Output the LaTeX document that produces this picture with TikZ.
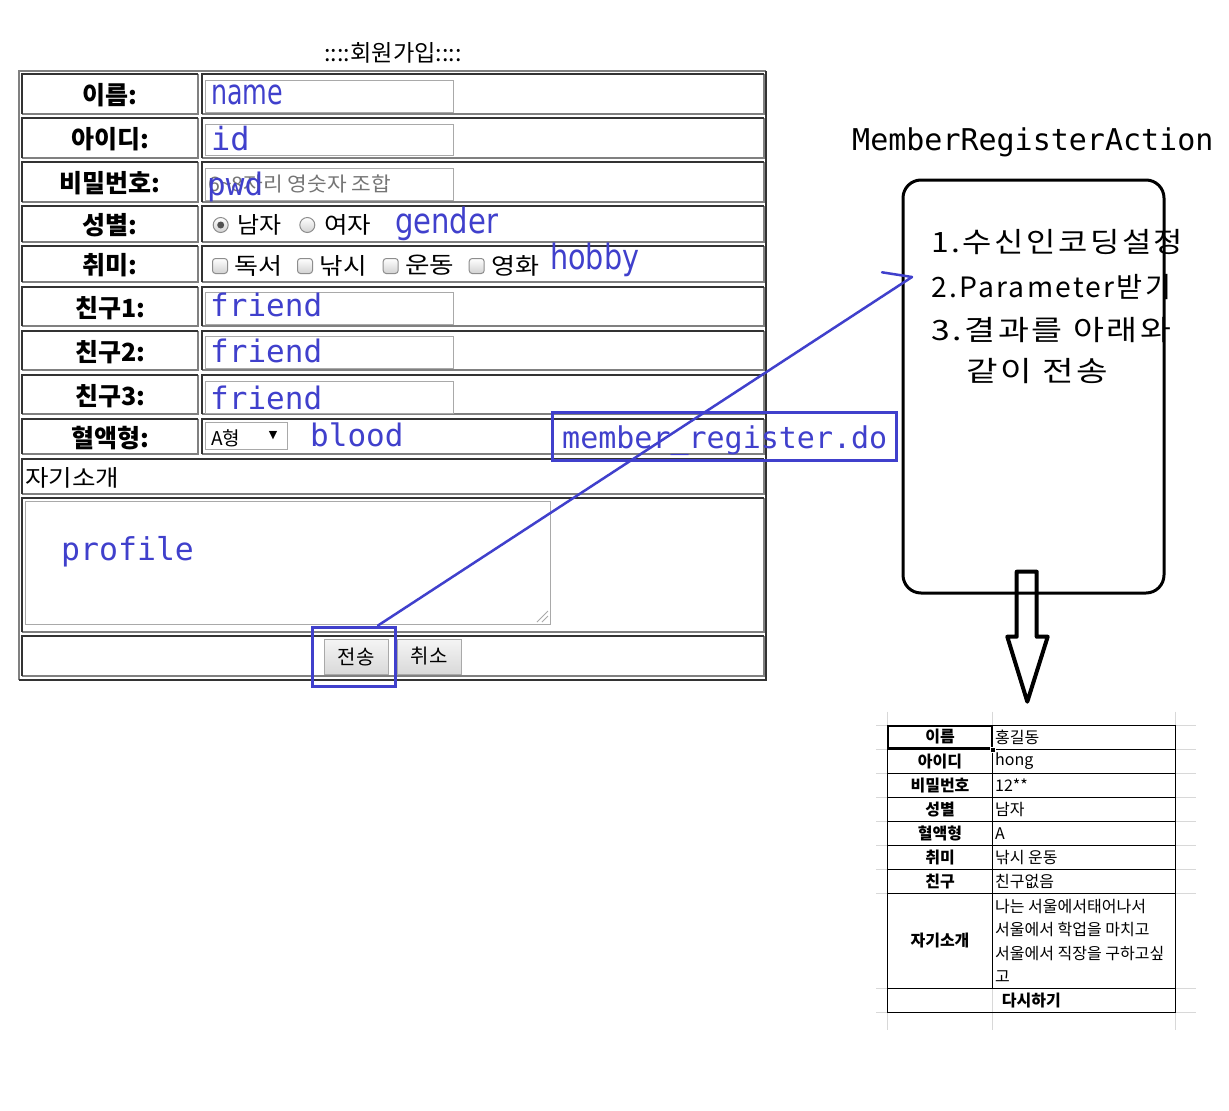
\documentclass[tikz,border=0pt]{standalone}
\usepackage{fontspec}
\usepackage{graphicx}
\setmainfont{Noto Sans CJK KR}
\newfontfamily\kr{Noto Sans CJK KR}
\newfontfamily\krsp[LetterSpace=8]{Noto Sans CJK KR}
\newfontfamily\dvs{DejaVu Sans}
\newfontfamily\dvm{DejaVu Sans Mono}
\newcommand\fsz[1]{\fontsize{#1}{#1}\selectfont}
\newcommand\fw[2]{\resizebox{#1}{\height}{#2}}
\definecolor{blu}{RGB}{64,64,204}
\definecolor{dk}{RGB}{51,51,51}
\definecolor{gy}{RGB}{128,128,128}
\definecolor{fld}{RGB}{169,169,169}
\definecolor{gridc}{RGB}{216,216,216}
\definecolor{phc}{RGB}{117,117,117}
\tikzset{
  dkl/.style={draw=dk, line width=2pt},
  gyl/.style={draw=gy, line width=2pt},
  field/.style={draw=fld, line width=1pt, fill=white},
  lab/.style={font=\kr\bfseries\fsz{25}, inner sep=0pt},
  val/.style={font=\kr\fsz{23}, inner sep=0pt, anchor=west},
  bluem/.style={font=\dvm\fsz{31}, text=blu, inner sep=0pt, anchor=base west},
  bluep/.style={font=\dvs\fsz{35}, text=blu, inner sep=0pt, anchor=base west},
  hl/.style={draw=blu, line width=3pt, inner sep=0pt},
  btn/.style={draw=fld, line width=1pt, top color=white!96!black, bottom color=white!85!black,
              font=\kr\fsz{20}, inner sep=0pt, minimum width=64pt, minimum height=35pt},
  radio/.style={draw=gy!90, line width=1pt, top color=white, bottom color=white!82!black},
  chk/.style={draw=gy!90, line width=1pt, top color=white, bottom color=white!82!black, rounded corners=3pt},
  acttxt/.style={font=\krsp\fsz{28}, inner sep=0pt, anchor=base west},
  gridl/.style={draw=gridc, line width=1pt},
  tlab/.style={font=\kr\bfseries\fsz{16}, inner sep=0pt},
  tval/.style={font=\kr\fsz{16}, inner sep=0pt, anchor=west}
}
\newcommand\tcell[4]{%
  \draw[gyl] (#3,#2) -- (#3,#4) -- (#1,#4);
  \draw[dkl] (#1,#4) -- (#1,#2) -- (#3,#2);
}
\begin{document}
\begin{tikzpicture}[x=1pt,y=-1pt]
\fill[white] (0,0) rectangle (1229,1111);
\useasboundingbox (0,0) rectangle (1229,1111);

% ---------- title
\node[inner sep=0pt, font=\kr\fsz{23}] (title) at (393,53) {\fw{137pt}{::::회원가입::::}};

% ---------- outer table
\draw[gyl] (19,680) -- (19,71) -- (766,71);
\draw[dkl] (766,71) -- (766,680) -- (19,680);

\foreach \a/\b/\t [count=\i] in {74/114/이름:, 118/158/아이디:, 162/202/비밀번호:, 206/242/성별:,
   246/282/취미:, 287/326/친구1:, 331/370/친구2:, 375/414/친구3:, 419/454/혈액형:}{
  \tcell{22}{\a}{198}{\b}
  \tcell{202}{\a}{764}{\b}
  \node[lab] (lab\i) at (110,{(\a+\b)/2+1.5}) {\t};
}
\tcell{22}{459}{764}{494}
\tcell{22}{498}{764}{632}
\tcell{22}{636}{764}{676}

% ---------- inputs
\foreach \a/\b in {80/112, 124/155, 168/200, 292/324, 336/368, 381/413}{
  \draw[field] (205,\a) rectangle (453,\b);
}
\node[inner sep=0pt, anchor=west, text=phc, font=\kr\fsz{20}] (ph) at (208,184)
  {\fw{183pt}{6\textasciitilde8자리 영숫자 조합}};

% gender
\shade[radio] (220.7,225) circle (7.5);
\fill[dk!85] (220.7,225) circle (3.5);
\node[val] (male) at (237,225) {\fw{44pt}{남자}};
\shade[radio] (307.3,225) circle (7.5);
\node[val] (female) at (324,225) {\fw{47pt}{여자}};

% hobby
\foreach \x/\w/\ww [count=\i] in {220/독서/48, 305/낚시/47, 390.7/운동/49, 476.7/영화/48}{
  \shade[chk] (\x-7.5,258.5) rectangle (\x+7.5,273.5);
  \node[val] (hob\i) at (\x+14.5,265.5) {\fw{\ww pt}{\w}};
}

% select
\draw[field] (205,422) rectangle (287,449);
\node[inner sep=0pt, anchor=west, font=\kr\fsz{19}] (selA) at (211,438) {A형};
\node[inner sep=0pt, font=\dvs\fsz{11}] (seltri) at (273,435.5) {▼};

% textarea
\node[inner sep=0pt, anchor=west, font=\kr\fsz{23}] (intro) at (25,477.5) {\fw{94pt}{자기소개}};
\draw[field] (25,501) rectangle (550,624);
\draw[fld, line width=0.8pt] (548,611) -- (537,622) (548,616) -- (542,622);

% buttons
\node[btn] (send) at (356,656.5) {전송};
\node[btn] (cancel) at (429,656.5) {취소};

% ---------- blue annotations
\node[bluep] (tname) at (211,104) {\fw{72pt}{name}};
\node[bluem, font=\dvm\fsz{32}] (tid) at (211,150) {id};
\node[bluem] (tpwd) at (207,195) {pwd};
\node[bluep] (tgender) at (395,233) {\fw{103pt}{gender}};
\node[bluep] (thobby) at (550,269) {\fw{89pt}{hobby}};
\node[bluem] (tf1) at (210,316.7) {friend};
\node[bluem] (tf2) at (210,362.7) {friend};
\node[bluem] (tf3) at (210,409) {friend};
\node[bluem] (tblood) at (310,446.7) {blood};
\node[bluem, font=\dvm\fsz{31.5}] (tprofile) at (61,560) {profile};

\node[hl, minimum width=83pt, minimum height=59pt] (sendhl) at (353.5,656.5) {};
\node[hl, minimum width=344pt, minimum height=48pt] (mregbox) at (724,436) {};
\node[bluem, font=\dvm\fsz{30}] (tmreg) at (562,448.3) {member\_register.do};

% ---------- action box
\node[inner sep=0pt, anchor=base west, font=\dvm\fsz{30}] (acttitle) at (852,150.7) {MemberRegisterAction};
\node[draw, line width=3pt, rounded corners=18pt, minimum width=261pt, minimum height=413pt, inner sep=0pt]
  (action) at (1033.5,386.5) {};
\node[acttxt] (a1) at (931,252) {\fw{252pt}{1.수신인코딩설정}};
\node[acttxt] (a2) at (931,297) {\fw{240pt}{2.Parameter받기}};
\node[acttxt] (a3) at (931,340) {\fw{240pt}{3.결과를 아래와}};
\node[acttxt] (a4) at (966,381) {\fw{142pt}{같이 전송}};

% connector
\coordinate (tip) at (912,277);
\draw[blu, line width=2.5pt, line cap=round] ([xshift=24.5pt]sendhl.north) -- (tip);
\draw[blu, line width=2.5pt, line cap=round] (tip) -- ++(-30,-4.7);

% block arrow
\draw[line width=4pt, line join=round] (1016.7,571.7) -- (1036.7,571.7) -- (1036.7,636.7) -- (1047.7,636.7)
  -- (1027.3,701.7) -- (1007.3,636.7) -- (1016.7,636.7) -- cycle;

% ---------- result table
\foreach \y in {725,749.3,773.3,797.3,821.5,845.5,869.5,893.3,988.3,1012.3}{
  \draw[gridl] (876,\y) -- (1196,\y);
}
\foreach \x in {887.3,992.7,1175.3}{
  \draw[gridl] (\x,711.7) -- (\x,1030);
}
\draw[line width=1pt] (887.3,725) rectangle (1175.3,1012.3);
\foreach \y in {749.3,773.3,797.3,821.5,845.5,869.5,893.3,988.3}{
  \draw[line width=1pt] (887.3,\y) -- (1175.3,\y);
}
\draw[line width=1pt] (992.7,725) -- (992.7,988.3);
\draw[line width=2pt] (888.3,726) rectangle (991.7,748.3);
\filldraw[fill=black, draw=white, line width=0.6pt] (990.2,746.8) rectangle (995.2,751.8);

\foreach \y/\l/\v [count=\i] in {737/이름/홍길동, 761.3/아이디/hong, 785.3/비밀번호/12**, 809.4/성별/남자,
   833.5/혈액형/A, 857.5/취미/낚시 운동, 881.4/친구/친구없음}{
  \node[tlab] (rl\i) at (940,\y) {\l};
  \node[tval] (rv\i) at (995,\y) {\v};
}
\node[tlab] (rl8) at (940,940.8) {자기소개};
\node[tval] (rp1) at (995,906.7) {나는 서울에서태어나서};
\node[tval] (rp2) at (995,929.8) {서울에서 학업을 마치고};
\node[tval] (rp3) at (995,953.3) {서울에서 직장을 구하고싶};
\node[tval] (rp4) at (995,976.7) {고};
\node[tlab] (rl9) at (1031.3,1000.3) {다시하기};
\end{tikzpicture}
\end{document}
